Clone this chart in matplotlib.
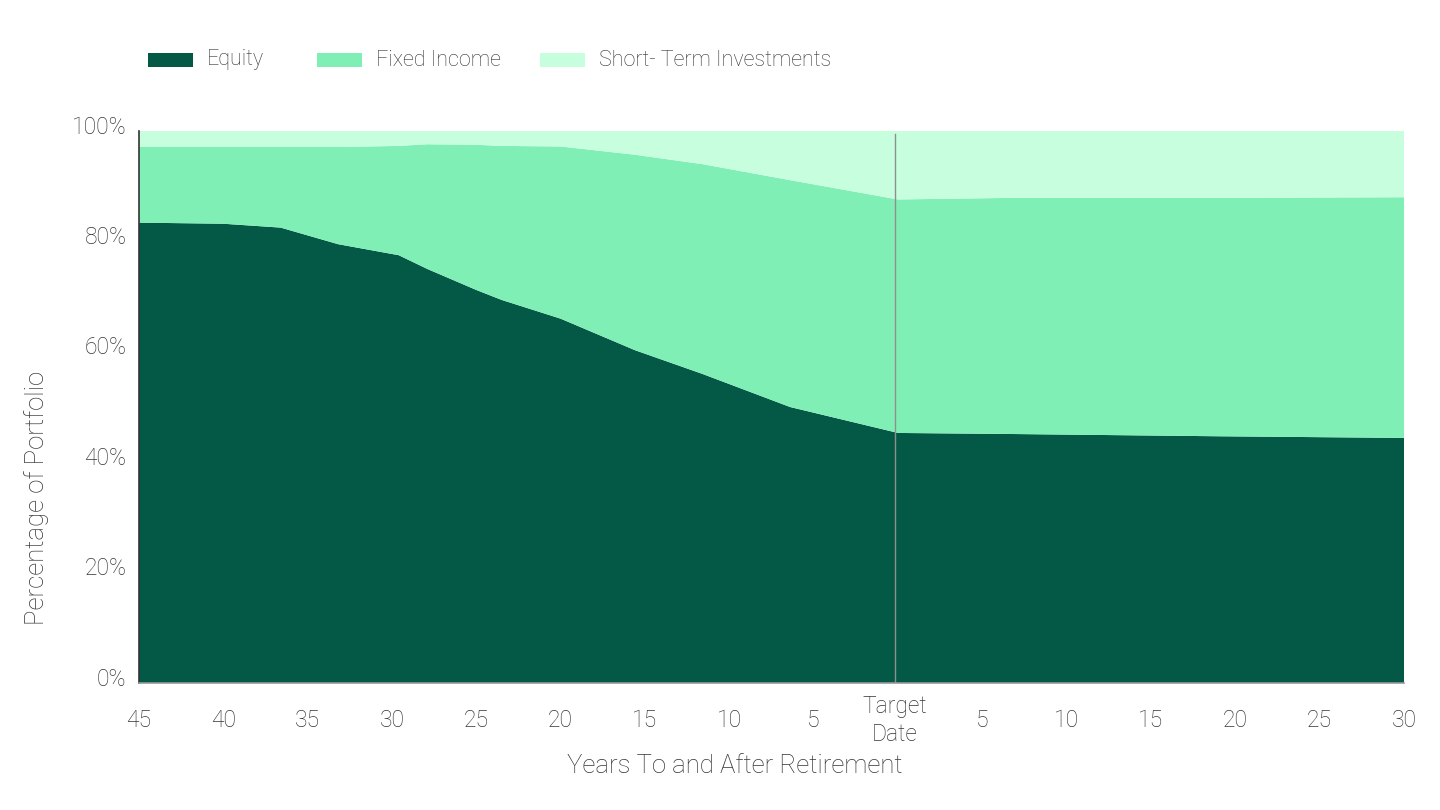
import matplotlib
matplotlib.use("Agg")
import matplotlib.pyplot as plt
import matplotlib.transforms as mtransforms
from matplotlib.patches import Rectangle

plt.rcParams['font.family'] = ['Roboto', 'DejaVu Sans']

# glide path (years relative to target date, % of portfolio)
years = [-45, -40, -36.6, -33.2, -29.6, -27.9, -25, -23.5, -20, -15.6, -11.6, -6.4, 0, 7, 19, 30]
equity = [83.4, 83.2, 82.5, 79.5, 77.5, 75.0, 71.2, 69.4, 66.0, 60.3, 56.0, 50.0, 45.3, 45.1, 44.7, 44.4]
equity_plus_fixed = [97.1, 97.1, 97.1, 97.1, 97.3, 97.6, 97.5, 97.3, 97.2, 95.7, 94.0, 91.1, 87.6, 87.9, 87.9, 88.0]

fixed_income = [t - e for t, e in zip(equity_plus_fixed, equity)]
short_term = [100 - t for t in equity_plus_fixed]

series_names = ['Equity', 'Fixed Income', 'Short- Term Investments']
colors = ['#045946', '#7FEFB6', '#C7FEDD']

tick_pos = [-45, -40, -35, -30, -25, -20, -15, -10, -5, -0.2, 5, 10, 15, 20, 25, 30]
tick_labels = ['45', '40', '35', '30', '25', '20', '15', '10', '5', 'Target\nDate',
               '5', '10', '15', '20', '25', '30']
y_ticks = [0, 20, 40, 60, 80, 100]

text_color = '#353535'

fig = plt.figure(figsize=(14.4, 8.1), dpi=100)
ax = fig.add_axes([139 / 1440, 1 - 683 / 810, (1404 - 139) / 1440, (683 - 131) / 810])

ax.stackplot(years, equity, fixed_income, short_term, colors=colors, linewidth=0)
ax.axvline(-0.2, ymax=0.995, color='#8f8f8f', lw=1)

ax.set_xlim(-45, 30)
ax.set_ylim(0, 100)

ax.set_xticks(tick_pos)
ax.set_xticklabels(tick_labels, fontsize=16.5, color=text_color, fontweight='light',
                   linespacing=1.3)
for lab in ax.get_xticklabels():
    lab.set_va('center')
ax.tick_params(axis='x', length=0, pad=27)

ax.set_yticks(y_ticks)
ax.set_yticklabels([f'{v}%' for v in y_ticks], fontsize=16.5, color=text_color, fontweight='light')
ax.tick_params(axis='y', length=0, pad=9)
shift = mtransforms.ScaledTranslation(0, 4 / 100, fig.dpi_scale_trans)
for lab in ax.get_yticklabels():
    lab.set_va('center')
    lab.set_transform(lab.get_transform() + shift)

for s in ['top', 'right']:
    ax.spines[s].set_visible(False)
ax.spines['left'].set_color('#333333')
ax.spines['left'].set_linewidth(1.2)
ax.spines['bottom'].set_color('#999999')
ax.spines['bottom'].set_linewidth(1.2)

fig.text(735 / 1440, 1 - 766 / 810, 'Years To and After Retirement', ha='center', va='center',
         fontsize=18.5, color=text_color, fontweight='light')
fig.text(37 / 1440, 1 - 498 / 810, 'Percentage of Portfolio', ha='center', va='center',
         rotation=90, fontsize=18.5, color=text_color, fontweight='light')

# legend row, laid out by hand to keep the uneven gaps of the original
legend_x = [148, 317, 540]
for name, c, lx in zip(series_names, colors, legend_x):
    fig.patches.append(Rectangle((lx / 1440, 1 - 67 / 810), 45 / 1440, 14 / 810,
                                 transform=fig.transFigure, facecolor=c, edgecolor='none'))
    fig.text((lx + 59) / 1440, 1 - 60 / 810, name, ha='left', va='center',
             fontsize=15.5, color=text_color, fontweight='light')

fig.savefig('out.png', dpi=100)
